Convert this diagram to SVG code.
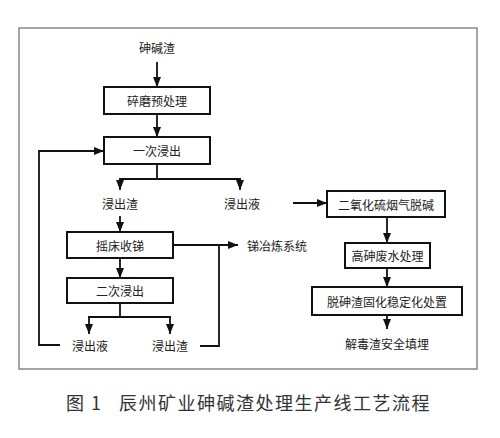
<svg xmlns="http://www.w3.org/2000/svg" width="500" height="438" viewBox="0 0 500 438">
<style>
.box{fill:#fff;stroke:#111;stroke-width:2}
.t{font-family:"Noto Sans CJK SC","Noto Sans CJK JP",sans-serif;font-size:12px;fill:#222;text-anchor:middle;dominant-baseline:central}
.c{fill:none;stroke:#111;stroke-width:1.8}
.a{marker-end:url(#ah)}
.cap{font-family:"Noto Sans CJK SC",sans-serif;font-size:18px;fill:#333;letter-spacing:1.5px}
</style>
<defs>
<marker id="ah" markerUnits="userSpaceOnUse" markerWidth="10" markerHeight="10" viewBox="0 0 10 10" refX="10" refY="5" orient="auto">
<path d="M0,1 L10,5 L0,9 Z" fill="#111"/>
</marker>
</defs>
<rect x="0" y="0" width="500" height="438" fill="#fff"/>
<rect id="frame" x="19" y="28" width="458" height="341" fill="none" stroke="#888" stroke-width="1.5"/>
<g id="connectors">
<path class="c a" d="M157,62 V87"/>
<path class="c a" d="M157,114 V137"/>
<path class="c" d="M157,164 V179 M119,179 H241"/>
<path class="c a" d="M120,179 V190"/>
<path class="c a" d="M240,179 V190"/>
<path class="c a" d="M60,345 H39 V151 H104"/>
<path class="c a" d="M120,216 V232"/>
<path class="c a" d="M173,245 H238"/>
<path class="c" d="M200,346 H219 V245"/>
<path class="c a" d="M120,258 V278"/>
<path class="c" d="M120,303 V317 M88,317 H171"/>
<path class="c a" d="M89,317 V334"/>
<path class="c a" d="M170,317 V334"/>
<path class="c a" d="M293,203 H327"/>
<path class="c a" d="M387,217 V243"/>
<path class="c a" d="M387,268 V287"/>
<path class="c a" d="M387,315 V329"/>
</g>
<g id="n-input"><text class="t" x="157" y="47">砷碱渣</text></g>
<g id="n-grind"><rect class="box" x="104" y="87" width="106" height="27"/><text class="t" x="157" y="100.5">碎磨预处理</text></g>
<g id="n-leach1"><rect class="box" x="104" y="137" width="106" height="27"/><text class="t" x="157" y="150.5">一次浸出</text></g>
<g id="n-res1"><text class="t" x="120" y="203">浸出渣</text></g>
<g id="n-liq1"><text class="t" x="242" y="203">浸出液</text></g>
<g id="n-table"><rect class="box" x="67" y="232" width="106" height="26"/><text class="t" x="120" y="245">摇床收锑</text></g>
<g id="n-sb"><text class="t" x="277" y="245">锑冶炼系统</text></g>
<g id="n-leach2"><rect class="box" x="67" y="278" width="106" height="25"/><text class="t" x="120" y="290.5">二次浸出</text></g>
<g id="n-liq2"><text class="t" x="90" y="345">浸出液</text></g>
<g id="n-res2"><text class="t" x="170" y="345">浸出渣</text></g>
<g id="n-so2"><rect class="box" x="327" y="191" width="118" height="26"/><text class="t" x="386" y="204">二氧化硫烟气脱碱</text></g>
<g id="n-water"><rect class="box" x="345" y="243" width="85" height="25"/><text class="t" x="387.5" y="255.5">高砷废水处理</text></g>
<g id="n-solid"><rect class="box" x="312" y="287" width="150" height="28"/><text class="t" x="387" y="301">脱砷渣固化稳定化处置</text></g>
<g id="n-landfill"><text class="t" x="387" y="343">解毒渣安全填埋</text></g>
<text class="cap" x="66" y="410">图 1</text>
<text class="cap" x="119" y="410">辰州矿业砷碱渣处理生产线工艺流程</text>
</svg>
